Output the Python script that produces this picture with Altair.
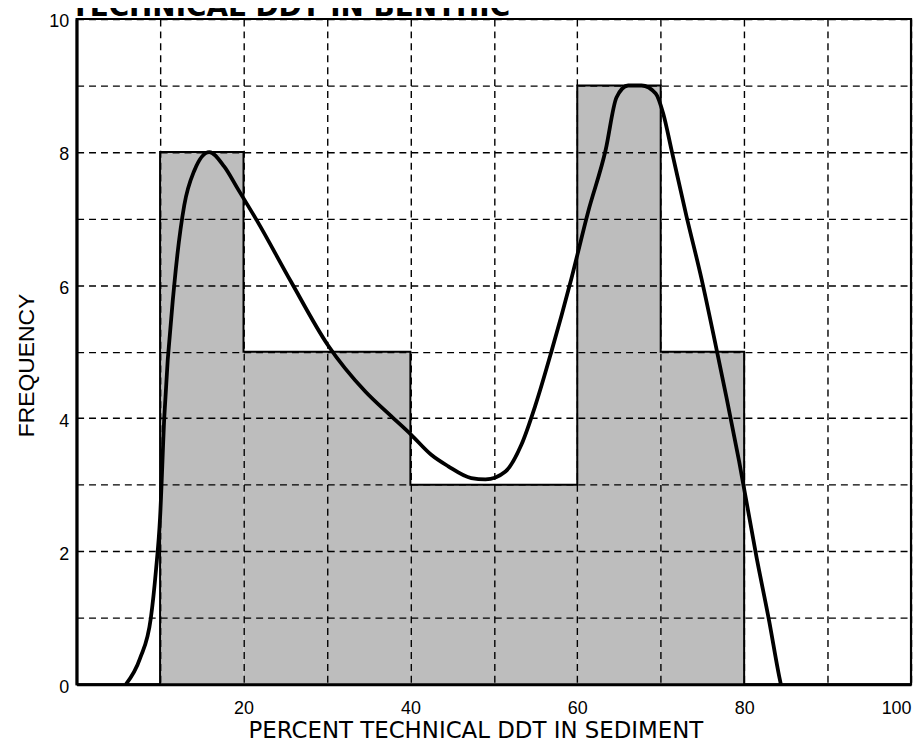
import altair as alt
import pandas as pd

title_text = "TECHNICAL DDT IN BENTHIC"
x_title = "PERCENT TECHNICAL DDT IN SEDIMENT"
y_title = "FREQUENCY"

bin_edges = [10, 20, 40, 60, 70, 80]
bin_counts = [8, 5, 3, 9, 5]

curve_x = [5.9, 7.6, 8.9, 9.5, 10.0, 10.5, 11.7, 12.9, 14.1, 15.9, 17.7, 19.3,
           21.7, 25.7, 30.1, 34.6, 37.7, 40.1, 42.5, 44.5, 47.3, 49.0, 51.4, 53.3,
           55.0, 56.9, 59.3, 61.3, 63.4, 64.7, 66.1, 67.7, 69.4, 70.3, 71.3, 73.1,
           74.9, 76.6, 77.9, 79.4, 81.5, 83.0, 84.2, 84.4]
curve_y = [0.0, 0.39, 1.0, 1.7, 2.5, 4.0, 6.0, 7.2, 7.72, 8.0, 7.78, 7.45,
           6.95, 6.05, 5.1, 4.4, 4.03, 3.75, 3.45, 3.28, 3.1, 3.08, 3.2, 3.6,
           4.2, 5.0, 6.1, 7.1, 8.03, 8.82, 9.0, 9.0, 8.88, 8.58, 8.03, 7.03,
           6.09, 5.09, 4.3, 3.35, 1.9, 0.95, 0.12, 0.0]

x_ticks = list(range(0, 101, 10))
y_ticks = list(range(0, 11))

bars_df = pd.DataFrame({"lo": bin_edges[:-1], "hi": bin_edges[1:], "n": bin_counts})
ox = [bin_edges[0]] + bin_edges[:-1] + [bin_edges[-1], bin_edges[-1]]
oy = [0] + bin_counts + [bin_counts[-1], 0]
outline_df = pd.DataFrame({"x": ox, "y": oy, "o": list(range(len(ox)))})
curve_df = pd.DataFrame({"x": curve_x, "y": curve_y})
title_df = pd.DataFrame({"t": [title_text]})

FONT = "Liberation Sans"
W, H = 839, 669

xs = alt.Scale(domain=[0, 100], nice=False, zero=False)
ys = alt.Scale(domain=[0, 10], nice=False)

grid_common = dict(grid=True, gridDash=[7, 5], gridColor="black", gridWidth=1.4,
                   gridOpacity=1, ticks=False, domain=True, domainColor="black",
                   domainWidth=3, labelFont=FONT, labelFontSize=18,
                   labelColor="black", titleColor="black",
                   titleFontWeight="normal", zindex=1, format="d")

x_axis = alt.Axis(values=x_ticks,
                  labelExpr="datum.value % 20 == 0 && datum.value > 0 ? datum.label : ''",
                  labelPadding=15, labelFlush=True,
                  title=x_title, titleFont="DejaVu Sans", titleFontSize=23,
                  titleX=401, titleY=46, titleBaseline="middle",
                  titleAlign="center", **grid_common)
y_axis = alt.Axis(values=y_ticks,
                  labelExpr="datum.value % 2 == 0 ? datum.label : ''",
                  labelPadding=8, labelOffset=3,
                  title=y_title, titleFont=FONT, titleFontSize=23,
                  titleX=-50, titleY=348, titleBaseline="middle",
                  titleAlign="center", titleAngle=270, **grid_common)

bars = alt.Chart(bars_df).mark_rect(fill="#bdbdbd", strokeWidth=0).encode(
    x=alt.X("lo:Q", scale=xs, axis=x_axis),
    x2="hi:Q",
    y=alt.Y("n:Q", scale=ys, axis=y_axis),
    y2=alt.datum(0),
)

outline = alt.Chart(outline_df).mark_line(color="black", strokeWidth=2,
                                          interpolate="step-after").encode(
    x=alt.X("x:Q", scale=xs),
    y=alt.Y("y:Q", scale=ys),
    order="o:Q",
)

curve = alt.Chart(curve_df).mark_line(color="black", strokeWidth=3.8,
                                      interpolate="monotone").encode(
    x=alt.X("x:Q", scale=xs),
    y=alt.Y("y:Q", scale=ys),
)

title = alt.Chart(title_df).mark_text(font="DejaVu Sans", fontSize=28,
                                      fontWeight="bold", align="left",
                                      baseline="alphabetic", color="black").encode(
    text="t:N", x=alt.value(-6), y=alt.value(-3),
)

chart = alt.layer(bars, outline, curve, title).properties(
    width=W, height=H,
    autosize=alt.AutoSizeParams(type="none"),
    padding={"left": 69, "top": 9, "right": 4, "bottom": 61},
).configure_view(stroke="black", strokeWidth=2.2)

chart.save("out.html", embed_options={"renderer": "svg", "actions": False})
